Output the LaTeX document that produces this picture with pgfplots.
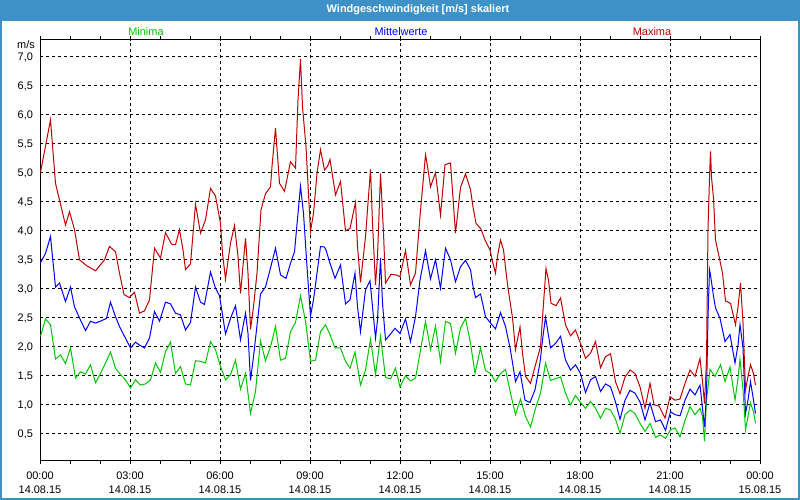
\documentclass[border=0pt]{standalone}
\usepackage{fontspec}
\setmainfont{Liberation Sans}
\usepackage{pgfplots}
\usepackage{pgfplotstable}
\pgfplotsset{compat=1.18}

\definecolor{barblue}{RGB}{61,145,199}
\definecolor{mingreen}{RGB}{0,200,0}
\definecolor{meanblue}{RGB}{0,0,255}
\definecolor{maxred}{RGB}{192,0,0}

% Minuten seit 00:00, Wert in m/s
\pgfplotstableread{
m v
1 5.00
21 5.90
31 4.81
39 4.52
51 4.09
59 4.32
69 4.01
79 3.49
93 3.39
111 3.30
129 3.49
139 3.72
151 3.63
159 3.26
168 2.89
179 2.84
189 2.93
199 2.57
209 2.61
219 2.80
229 3.69
241 3.52
251 3.96
263 3.76
271 3.75
279 4.01
286 3.66
291 3.32
301 3.42
311 4.45
321 3.95
331 4.18
341 4.72
351 4.59
361 4.12
365 3.60
371 3.16
381 3.78
389 4.08
396 3.55
401 2.91
411 3.86
416 3.26
421 2.29
427 2.68
434 3.26
442 4.35
451 4.63
461 4.75
464 5.10
471 5.76
479 4.81
489 4.67
501 5.18
511 5.07
516 6.25
521 6.95
525 6.13
532 5.44
541 3.98
547 4.29
554 4.98
561 5.39
569 5.04
575 5.10
580 5.22
591 4.61
601 4.84
611 3.99
620 4.03
631 4.48
635 3.72
641 3.10
651 3.89
661 5.05
665 4.12
671 3.06
675 3.55
681 4.98
687 3.95
691 3.09
702 3.24
712 3.23
720 3.20
731 3.65
741 3.06
751 3.26
760 4.24
771 5.30
775 5.10
781 4.75
791 4.99
801 4.26
810 5.13
821 5.16
831 3.95
841 4.74
851 4.97
861 4.70
866 4.40
872 4.12
882 4.02
890 3.83
900 3.66
905 3.46
911 3.26
915 3.55
921 3.83
927 3.66
935 3.06
945 2.49
951 1.94
955 2.12
960 2.33
965 1.88
971 1.48
981 1.36
991 1.68
1001 1.99
1007 2.74
1012 3.34
1017 3.14
1022 2.74
1032 2.70
1041 2.83
1051 2.37
1061 2.18
1071 2.28
1081 2.05
1091 1.79
1101 1.88
1111 2.08
1121 1.63
1131 1.82
1141 1.87
1151 1.39
1160 1.18
1170 1.47
1180 1.59
1190 1.53
1200 1.30
1210 0.93
1220 1.36
1228 0.99
1238 0.97
1250 0.76
1260 1.13
1270 1.07
1280 1.09
1290 1.36
1300 1.59
1310 1.48
1320 1.79
1325 1.39
1329 1.01
1333 1.76
1336 4.03
1339 4.91
1341 5.36
1343 4.91
1347 4.55
1351 3.83
1358 3.55
1365 3.26
1371 2.78
1381 2.74
1391 2.37
1396 2.68
1401 3.09
1406 2.40
1411 1.25
1416 1.48
1421 1.68
1427 1.53
1431 1.33
}\maxdata

\pgfplotstableread{
m v
1 3.44
11 3.60
21 3.89
31 3.02
39 3.09
51 2.77
61 3.02
69 2.68
81 2.45
91 2.27
101 2.43
111 2.40
123 2.44
133 2.48
141 2.76
151 2.51
159 2.34
169 2.17
181 1.97
191 2.07
199 2.02
209 1.97
219 2.14
229 2.60
239 2.43
251 2.76
261 2.73
271 2.57
281 2.54
291 2.28
301 2.41
311 3.02
321 2.76
329 2.72
341 3.28
351 3.00
359 2.87
364 2.60
371 2.21
381 2.48
391 2.70
401 2.11
411 2.57
416 2.22
421 1.41
427 1.82
441 2.90
451 3.02
461 3.35
471 3.69
481 3.23
492 3.17
501 3.43
509 3.63
521 4.76
527 4.29
534 3.37
541 2.52
547 2.80
554 3.26
561 3.72
569 3.71
572 3.66
580 3.43
590 3.17
601 3.40
611 2.73
620 2.80
630 3.26
635 2.68
641 2.25
651 2.97
660 3.13
665 2.68
671 2.14
675 2.45
681 3.52
685 2.74
691 2.11
700 2.20
710 2.31
720 2.22
731 2.47
741 2.08
751 2.51
760 3.14
771 3.65
781 3.16
791 3.49
801 3.00
811 3.69
821 3.49
831 3.11
841 3.37
851 3.48
861 3.32
866 3.03
871 2.84
881 2.90
891 2.51
901 2.40
911 2.30
921 2.58
931 2.34
941 1.93
951 1.39
960 1.56
970 1.07
980 1.03
990 1.25
1000 1.72
1005 2.11
1011 2.50
1021 1.97
1031 2.05
1041 2.17
1051 1.76
1061 1.59
1071 1.68
1081 1.53
1091 1.20
1101 1.42
1111 1.48
1121 1.22
1131 1.35
1141 1.30
1151 1.04
1160 0.74
1170 1.07
1180 1.24
1190 1.19
1200 1.04
1210 0.73
1220 1.02
1231 0.70
1241 0.73
1251 0.55
1261 0.87
1270 0.82
1280 0.80
1290 1.07
1300 1.26
1310 1.16
1320 1.33
1325 0.93
1329 0.61
1333 1.19
1336 2.51
1339 3.32
1341 3.23
1347 2.86
1351 2.66
1360 2.48
1370 2.08
1380 2.20
1390 1.71
1396 2.02
1400 2.37
1406 1.97
1411 0.84
1416 1.07
1421 1.39
1427 1.07
1431 0.84
}\meandata

\pgfplotstableread{
m v
1 2.17
11 2.47
21 2.37
31 1.78
41 1.85
51 1.70
61 1.97
71 1.45
81 1.56
91 1.52
101 1.68
111 1.37
121 1.53
131 1.71
141 1.90
151 1.62
161 1.51
171 1.42
181 1.28
191 1.42
201 1.33
211 1.35
221 1.42
231 1.71
241 1.55
251 1.91
261 2.07
271 1.53
281 1.65
291 1.35
301 1.33
311 1.75
321 1.74
331 1.71
341 2.08
351 1.94
361 1.65
371 1.42
381 1.51
391 1.76
401 1.26
411 1.53
421 0.84
431 1.22
441 2.09
451 1.75
461 1.99
471 2.34
481 1.76
491 1.79
501 2.25
511 2.41
521 2.87
531 2.43
541 1.74
551 1.76
561 2.25
571 2.37
580 2.20
590 1.97
601 1.97
611 1.74
620 1.62
630 1.90
641 1.33
651 1.59
661 2.12
671 1.51
681 2.17
691 1.46
701 1.44
711 1.62
720 1.30
731 1.49
741 1.40
751 1.45
760 1.88
771 2.43
781 1.94
791 2.35
801 1.74
811 2.43
821 2.39
831 1.88
841 2.31
851 2.48
861 2.05
870 1.53
881 1.97
891 1.58
901 1.53
911 1.39
921 1.53
931 1.60
941 1.19
951 0.82
961 1.09
971 0.79
981 0.61
991 0.93
1001 1.19
1011 1.71
1021 1.41
1031 1.44
1041 1.47
1051 1.19
1061 0.99
1071 1.15
1081 1.03
1091 0.93
1101 1.05
1111 0.93
1121 0.76
1131 0.93
1141 0.90
1151 0.74
1160 0.50
1170 0.82
1180 0.90
1190 0.84
1200 0.67
1210 0.53
1220 0.67
1231 0.43
1241 0.47
1251 0.41
1261 0.56
1270 0.59
1280 0.44
1290 0.72
1300 0.96
1310 0.82
1320 0.93
1325 0.79
1329 0.36
1333 1.07
1340 1.60
1350 1.48
1361 1.68
1370 1.39
1380 1.64
1390 1.07
1396 1.45
1400 1.78
1406 1.25
1411 0.56
1416 0.79
1421 1.02
1427 0.87
1431 0.67
}\mindata

\begin{document}
\begin{tikzpicture}[x=1bp,y=1bp]
	\useasboundingbox (0,0) rectangle (800,500);
	\fill[white] (0,0) rectangle (800,500);
	\fill[barblue] (0,479.3) rectangle (800,500);
	\draw[barblue, line width=2bp] (1,1) rectangle (799,499);
	\node[text=white, font=\bfseries\fontsize{11}{13}\selectfont] at (418,490) {Windgeschwindigkeit [m/s] skaliert};

	\node[text=mingreen, font=\fontsize{11}{13}\selectfont] at (146,468) {Minima};
	\node[text=meanblue, font=\fontsize{11}{13}\selectfont] at (401,468) {Mittelwerte};
	\node[text=maxred, font=\fontsize{11}{13}\selectfont] at (652,468) {Maxima};
	\node[font=\fontsize{11}{13}\selectfont] at (26,455) {m/s};

	\begin{axis}[
		at={(40bp,39.5bp)},
		anchor=south west,
		scale only axis,
		width=720bp,
		height=420.5bp,
		xmin=0, xmax=1440,
		ymin=0.03, ymax=7.28,
		xtick={0,180,360,540,720,900,1080,1260,1440},
		xticklabels={00:00\\14.08.15, 03:00\\14.08.15, 06:00\\14.08.15, 09:00\\14.08.15, 12:00\\14.08.15, 15:00\\14.08.15, 18:00\\14.08.15, 21:00\\14.08.15, 00:00\\15.08.15},
		minor x tick num=2,
		ytick={0.5,1.0,1.5,2.0,2.5,3.0,3.5,4.0,4.5,5.0,5.5,6.0,6.5,7.0},
		grid=major,
		major grid style={black, line width=0.8bp, dash pattern=on 3bp off 3bp},
		axis line style={black, line width=1bp},
		tick align=outside,
		major tick length=3.5bp,
		minor tick length=3.5bp,
		xtick style={black, line width=0.8bp},
		ytick style={draw=none},
		ticklabel style={font=\fontsize{11}{14.5}\selectfont},
		xticklabel style={align=center, yshift=-4bp},
		yticklabel style={yshift=-1.5bp, /pgf/number format/.cd, use comma, fixed, fixed zerofill, precision=1, assume math mode=true},
		every axis plot/.append style={line width=1bp, mark=none},
		]
		\addplot[mingreen] table {\mindata};
		\addplot[meanblue] table {\meandata};
		\addplot[maxred] table {\maxdata};
	\end{axis}
\end{tikzpicture}
\end{document}
